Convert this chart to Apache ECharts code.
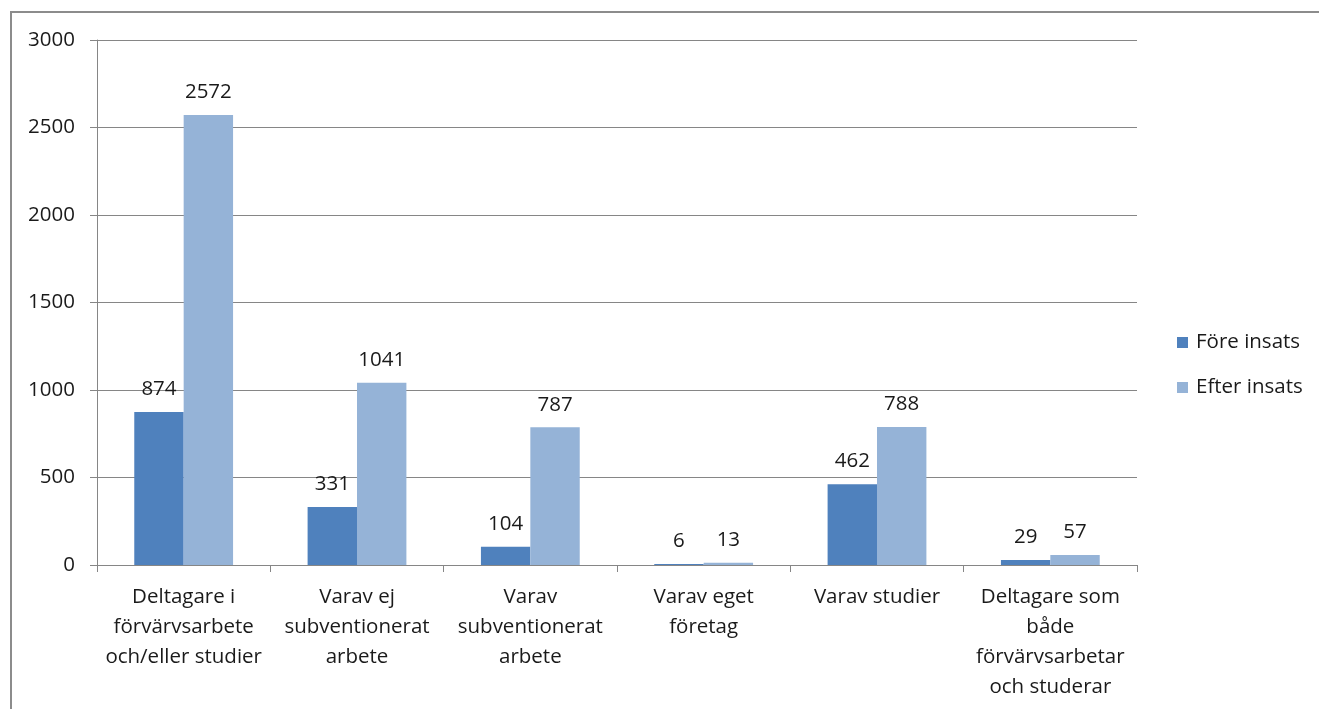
<!DOCTYPE html>
<html>
<head>
<meta charset="utf-8">
<script src="https://cdn.jsdelivr.net/npm/echarts@6/dist/echarts.min.js"></script>
<style>
  html, body { margin: 0; padding: 0; background: #fff; }
  #chart { width: 1319px; height: 709px; }
</style>
</head>
<body>
<div id="chart"></div>
<script>
// Categories on the x axis (each may wrap over several lines)
const categories = [
  'Deltagare i\nförvärvsarbete\noch/eller studier',
  'Varav ej\nsubventionerat\narbete',
  'Varav\nsubventionerat\narbete',
  'Varav eget\nföretag',
  'Varav studier',
  'Deltagare som\nbåde\nförvärvsarbetar\noch studerar'
];

// Number of participants before and after the intervention
const beforeValues = [874, 331, 104, 6, 462, 29];
const afterValues = [2572, 1041, 787, 13, 788, 57];

const seriesNames = ['Före insats', 'Efter insats'];

const FONT = '"Open Sans", Lato, sans-serif';
const TEXT_COLOR = '#1a1a1a';
const FONT_SIZE = 20.5;

const chart = echarts.init(document.getElementById('chart'));

const valueLabel = {
  show: true,
  position: 'top',
  distance: 12,
  fontFamily: FONT,
  fontSize: FONT_SIZE,
  color: TEXT_COLOR
};

chart.setOption({
  animation: false,
  textStyle: { fontFamily: FONT },
  graphic: [{
    type: 'rect',
    shape: { x: 11, y: 12, width: 1400, height: 800 },
    style: { fill: 'none', stroke: '#8c8c8c', lineWidth: 2 },
    silent: true
  }],
  grid: { left: 97, right: 182, top: 40, bottom: 144, containLabel: false },
  legend: {
    orient: 'vertical',
    left: 1172,
    top: 327,
    itemWidth: 11,
    itemHeight: 11,
    itemGap: 24,
    icon: 'rect',
    textStyle: { fontFamily: FONT, fontSize: FONT_SIZE, color: TEXT_COLOR, padding: [0, 0, 0, 3] },
    data: seriesNames
  },
  xAxis: {
    type: 'category',
    data: categories,
    axisLine: { lineStyle: { color: '#868686', width: 1 } },
    axisTick: { show: true, length: 7, alignWithLabel: false, lineStyle: { color: '#868686' } },
    axisLabel: {
      interval: 0,
      margin: 17,
      fontFamily: FONT,
      fontSize: FONT_SIZE,
      lineHeight: 30,
      color: TEXT_COLOR
    }
  },
  yAxis: {
    type: 'value',
    min: 0,
    max: 3000,
    interval: 500,
    axisLine: { show: true, lineStyle: { color: '#868686', width: 1 } },
    axisTick: { show: true, length: 7, lineStyle: { color: '#868686' } },
    axisLabel: {
      margin: 22,
      fontFamily: FONT,
      fontSize: FONT_SIZE,
      color: TEXT_COLOR,
      formatter: (v) => String(v)
    },
    splitLine: { show: true, lineStyle: { color: '#868686', width: 1 } }
  },
  series: [
    {
      name: seriesNames[0],
      type: 'bar',
      data: beforeValues,
      barGap: '0%',
      barCategoryGap: '43%',
      itemStyle: { color: '#4F81BD' },
      label: valueLabel
    },
    {
      name: seriesNames[1],
      type: 'bar',
      data: afterValues,
      barGap: '0%',
      barCategoryGap: '43%',
      itemStyle: { color: '#95B3D7' },
      label: valueLabel
    }
  ]
});
</script>
</body>
</html>
